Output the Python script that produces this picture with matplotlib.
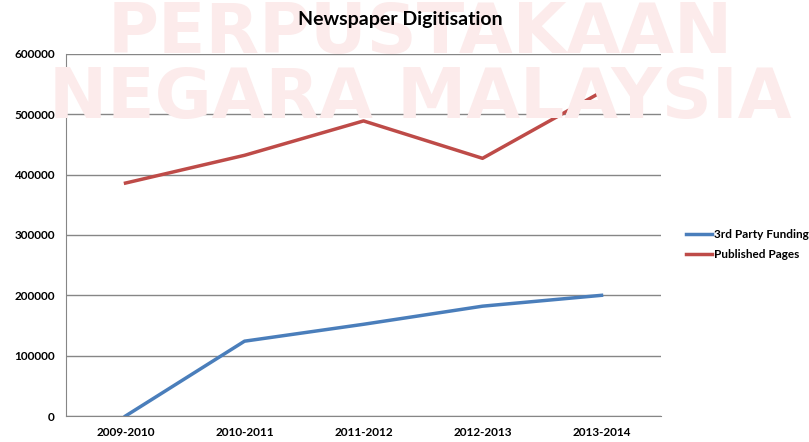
import matplotlib
matplotlib.use("Agg")
import matplotlib.pyplot as plt

# data
years = ["2009-2010", "2010-2011", "2011-2012", "2012-2013", "2013-2014"]
third_party = [0, 124000, 152000, 182000, 200000]
published = [386000, 432000, 489000, 427000, 537000]

plt.rcParams['font.family'] = ['Lato', 'DejaVu Sans']

fig = plt.figure(figsize=(8.09, 4.42), dpi=100)

# faint watermark behind the chart
fig.text(0.52, 0.925, "PERPUSTAKAAN", ha='center', va='center', fontsize=50,
         fontweight='bold', family='DejaVu Sans', color='#fcebeb', zorder=0)
fig.text(0.52, 0.778, "NEGARA MALAYSIA", ha='center', va='center', fontsize=50,
         fontweight='bold', family='DejaVu Sans', color='#fcebeb', zorder=0)

ax = fig.add_axes([0.0816, 0.0588, 0.7355, 0.8192])
ax.patch.set_alpha(0)

x = range(len(years))
ax.plot(x, third_party, color='#4a7ebb', lw=2.5, label='3rd Party Funding')
ax.plot(x, published, color='#be4b48', lw=2.5, label='Published Pages')

ax.set_xlim(-0.5, len(years) - 0.5)
ax.set_ylim(0, 600000)
ax.set_yticks(range(0, 600001, 100000))
ax.set_yticklabels([str(v) for v in range(0, 600001, 100000)])
ax.set_xticks(list(x))
ax.set_xticklabels(years)
ax.tick_params(length=0, labelsize=8.5, pad=8)
for lab in ax.get_xticklabels() + ax.get_yticklabels():
    lab.set_fontweight('bold')

ax.grid(axis='y', color='#868686', lw=1)
ax.set_axisbelow(True)
for s in ['top', 'right']:
    ax.spines[s].set_visible(False)
for s in ['left', 'bottom']:
    ax.spines[s].set_color('#868686')

fig.text(0.495, 0.955, "Newspaper Digitisation", ha='center', va='center',
         fontsize=14, fontweight='bold')

fig.legend(loc='center left', bbox_to_anchor=(0.835, 0.447), frameon=False,
           handlelength=2.2, handletextpad=0.2, labelspacing=0.8,
           prop={'weight': 'bold', 'size': 8.5})

fig.savefig("out.png", dpi=100)
